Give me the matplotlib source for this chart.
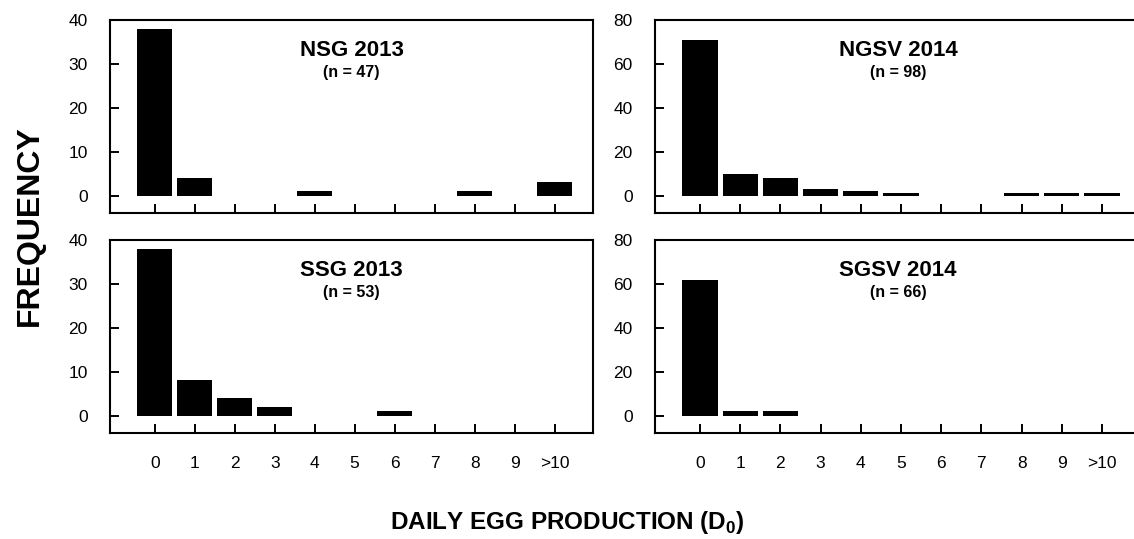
import matplotlib
matplotlib.use("Agg")
import matplotlib.pyplot as plt
import numpy as np

plt.rcParams['font.family'] = ['Liberation Sans', 'DejaVu Sans']
plt.rcParams['mathtext.fontset'] = 'custom'
plt.rcParams['mathtext.rm'] = 'Liberation Sans'
plt.rcParams['mathtext.bf'] = 'Liberation Sans:bold'

categories = ['0', '1', '2', '3', '4', '5', '6', '7', '8', '9', '>10']
nsg_2013 = [38, 4, 0, 0, 1, 0, 0, 0, 1, 0, 3]
ngsv_2014 = [71, 10, 8, 3, 2, 1, 0, 0, 1, 1, 1]
ssg_2013 = [38, 8, 4, 2, 0, 0, 1, 0, 0, 0, 0]
sgsv_2014 = [62, 2, 2, 0, 0, 0, 0, 0, 0, 0, 0]

titles = ['NSG 2013', 'NGSV 2014', 'SSG 2013', 'SGSV 2014']
ns = ['(n = 47)', '(n = 98)', '(n = 53)', '(n = 66)']
yticks_left = [0, 10, 20, 30, 40]
yticks_right = [0, 20, 40, 60, 80]

W, H = 1134, 539
fig = plt.figure(figsize=(W / 100, H / 100), dpi=100)

def px_axes(l, r, t, b):
    return fig.add_axes([l / W, 1 - b / H, (r - l) / W, (b - t) / H])

boxes = [(110, 593.3, 20, 212.7), (655, 1141, 20, 212.7),
         (110, 593.3, 240, 432.7), (655, 1141, 240, 432.7)]
data = [nsg_2013, ngsv_2014, ssg_2013, sgsv_2014]
x = np.arange(len(categories))

for i, (box, vals) in enumerate(zip(boxes, data)):
    ax = px_axes(*box)
    ax.bar(x, vals, width=0.875, color='black', edgecolor='none')
    ax.set_xlim(-1.12, 10.97)
    if i % 2 == 0:
        ax.set_ylim(-3.9, 40)
        ax.set_yticks(yticks_left)
    else:
        ax.set_ylim(-7.8, 80)
        ax.set_yticks(yticks_right)
    ax.set_xticks(x)
    if i >= 2:
        ax.set_xticklabels(categories)
    else:
        ax.set_xticklabels([])
    ax.tick_params(axis='both', direction='in', length=6.5, width=1.4,
                   labelsize=12.5, color='black')
    ax.tick_params(axis='x', pad=17)
    ax.tick_params(axis='y', pad=16)
    for s in ax.spines.values():
        s.set_linewidth(1.5)
    ax.text(0.5, 0.84, titles[i], transform=ax.transAxes, ha='center',
            va='center', fontsize=16, fontweight='bold')
    ax.text(0.5, 0.725, ns[i], transform=ax.transAxes, ha='center',
            va='center', fontsize=11.5, fontweight='bold')

fig.text(30 / W, 1 - 226 / H, 'FREQUENCY', rotation=90, ha='center',
         va='center', fontsize=23, fontweight='bold')
fig.text(567 / W, 1 - 522 / H, r'DAILY EGG PRODUCTION (D$_{\mathbf{0}}$)',
         ha='center', va='center', fontsize=17.5, fontweight='bold')

fig.savefig('out.png', dpi=100)
